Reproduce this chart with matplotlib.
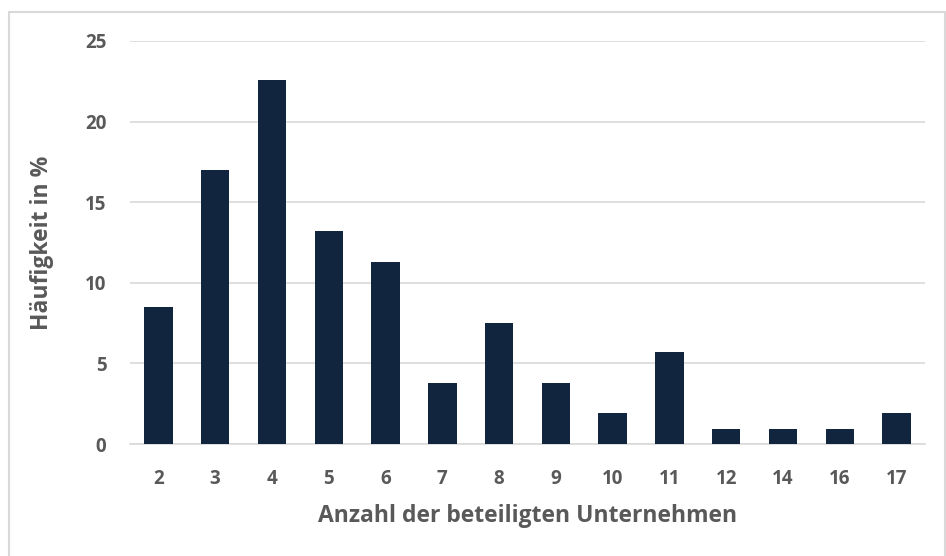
import matplotlib.pyplot as plt
from matplotlib.patches import Rectangle

categories = ["2", "3", "4", "5", "6", "7", "8", "9", "10", "11", "12", "14", "16", "17"]
values = [8.5, 17.0, 22.6, 13.2, 11.3, 3.8, 7.5, 3.8, 1.9, 5.7, 0.9, 0.9, 0.9, 1.9]
yticks = [0, 5, 10, 15, 20, 25]

plt.rcParams['font.family'] = ['Open Sans', 'DejaVu Sans']
text_color = "#595959"
bar_color = "#12253F"
grid_color = "#D9D9D9"

fig = plt.figure(figsize=(9.46, 5.56), dpi=100)
ax = fig.add_axes([130 / 946, 112 / 556, 795 / 946, 403 / 556])

x = range(len(categories))
ax.bar(x, values, width=0.5, color=bar_color, zorder=3)

ax.set_xlim(-0.5, len(categories) - 0.5)
ax.set_ylim(0, 25)
ax.set_yticks(yticks)
ax.set_xticks(list(x))
ax.set_xticklabels(categories)
ax.yaxis.grid(True, color=grid_color, linewidth=1.2, zorder=0)
ax.tick_params(axis="both", length=0, labelsize=13.5, labelcolor=text_color)
ax.tick_params(axis="x", pad=18)
ax.tick_params(axis="y", pad=17)
for lab in ax.get_xticklabels() + ax.get_yticklabels():
    lab.set_fontweight("bold")

for s in ["top", "right", "left"]:
    ax.spines[s].set_visible(False)
ax.spines["bottom"].set_color(grid_color)
ax.spines["bottom"].set_linewidth(1.2)

ax.set_xlabel("Anzahl der beteiligten Unternehmen", fontsize=16.5, fontweight="bold",
              color=text_color, labelpad=11)
ax.set_ylabel("Häufigkeit in %", fontsize=16.5, fontweight="bold", color=text_color,
              labelpad=22)

# aeusserer Rahmen
fig.patches.append(Rectangle((8.5 / 946, -0.1), (945 - 8.5) / 946, 1.1 - 12 / 556,
                             transform=fig.transFigure, fill=False,
                             edgecolor=grid_color, linewidth=1.5))

fig.savefig("out.png", dpi=100)
